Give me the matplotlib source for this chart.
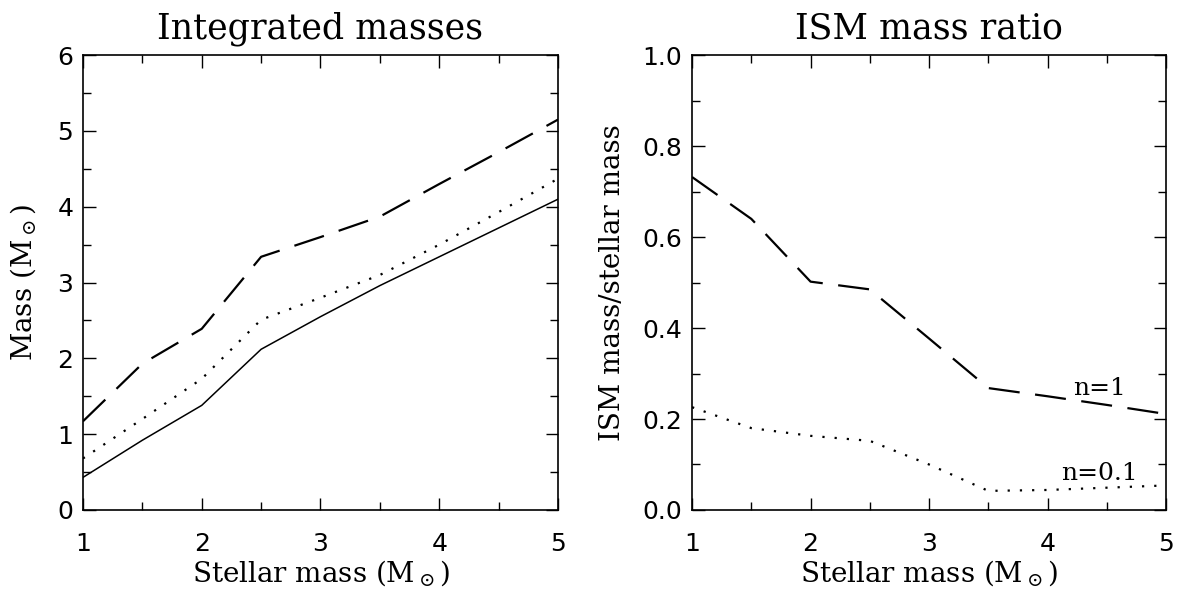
import numpy as np
import matplotlib
matplotlib.use("Agg")
import matplotlib.pyplot as plt
from matplotlib.ticker import MultipleLocator, FormatStrFormatter

# ---- data ----
stellar_mass = [1.0, 1.5, 2.0, 2.5, 3.0, 3.5, 4.0, 4.5, 5.0]

mass_solid = [0.43, 0.92, 1.38, 2.12, 2.55, 2.96, 3.34, 3.72, 4.10]
mass_dotted = [0.68, 1.20, 1.73, 2.51, 2.80, 3.10, 3.50, 3.93, 4.37]
mass_dashed = [1.17, 1.93, 2.39, 3.34, 3.60, 3.87, 4.30, 4.72, 5.15]

ratio_n1 = [0.732, 0.640, 0.502, 0.485, 0.377, 0.268, 0.250, 0.231, 0.211]
ratio_n01 = [0.226, 0.180, 0.163, 0.152, 0.100, 0.042, 0.044, 0.049, 0.054]

label_n1 = "n=1"
label_n01 = "n=0.1"

plt.rcParams["font.family"] = ["DejaVu Sans"]
plt.rcParams["mathtext.fontset"] = "dejavuserif"

SERIF = "DejaVu Serif"

fig = plt.figure(figsize=(11.77, 5.93), dpi=100)
ax1 = fig.add_axes([0.0705, 0.140, 0.4036, 0.767])
ax2 = fig.add_axes([0.588, 0.140, 0.4027, 0.767])

dash = (0, (14, 7))
dot = (0, (1, 4.5))

ax1.plot(stellar_mass, mass_solid, color="black", lw=1.1)
ax1.plot(stellar_mass, mass_dotted, color="black", lw=1.6, linestyle=dot)
ax1.plot(stellar_mass, mass_dashed, color="black", lw=1.6, linestyle=dash)
ax1.set_xlim(1, 5)
ax1.set_ylim(0, 6)
ax1.xaxis.set_major_locator(MultipleLocator(1))
ax1.xaxis.set_minor_locator(MultipleLocator(0.5))
ax1.yaxis.set_major_locator(MultipleLocator(1))
ax1.yaxis.set_minor_locator(MultipleLocator(0.5))
ax1.set_title("Integrated masses", family=SERIF, fontsize=25, pad=12)
ax1.set_xlabel(r"Stellar mass (M$_\odot$)", family=SERIF, fontsize=20, labelpad=1)
ax1.set_ylabel(r"Mass (M$_\odot$)", family=SERIF, fontsize=20, labelpad=14)

ax2.plot(stellar_mass, ratio_n1, color="black", lw=1.6, linestyle=dash)
ax2.plot(stellar_mass, ratio_n01, color="black", lw=1.6, linestyle=dot)
ax2.set_xlim(1, 5)
ax2.set_ylim(0, 1.0)
ax2.xaxis.set_major_locator(MultipleLocator(1))
ax2.xaxis.set_minor_locator(MultipleLocator(0.5))
ax2.yaxis.set_major_locator(MultipleLocator(0.2))
ax2.yaxis.set_minor_locator(MultipleLocator(0.1))
ax2.yaxis.set_major_formatter(FormatStrFormatter("%.1f"))
ax2.set_title("ISM mass ratio", family=SERIF, fontsize=25, pad=12)
ax2.set_xlabel(r"Stellar mass (M$_\odot$)", family=SERIF, fontsize=20, labelpad=1)
ax2.set_ylabel("ISM mass/stellar mass", family=SERIF, fontsize=20, labelpad=12)
ax2.text(4.44, 0.268, label_n1, family=SERIF, fontsize=18, ha="center", va="center")
ax2.text(4.44, 0.08, label_n01, family=SERIF, fontsize=18, ha="center", va="center")

for ax in (ax1, ax2):
    ax.tick_params(which="both", direction="in", top=True, right=True, width=1)
    ax.tick_params(axis="x", labelsize=18, pad=16)
    ax.tick_params(axis="y", labelsize=18, pad=7)
    ax.tick_params(which="major", length=9)
    ax.tick_params(which="minor", length=6)
    for s in ax.spines.values():
        s.set_linewidth(1.2)

fig.savefig("out.png", dpi=100)
